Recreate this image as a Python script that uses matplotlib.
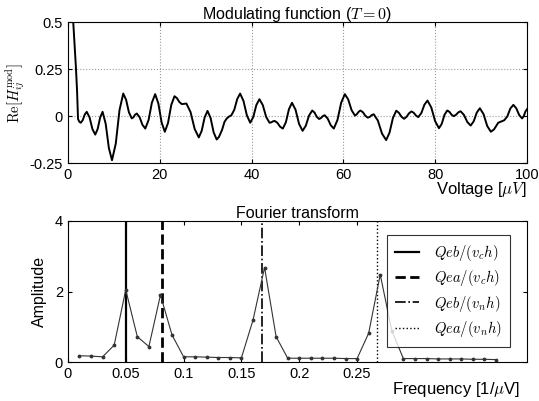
import numpy as np
import matplotlib.pyplot as plt

plt.rcParams['font.family'] = ['Liberation Sans', 'DejaVu Sans']
plt.rcParams['mathtext.fontset'] = 'cm'
plt.rcParams['xtick.direction'] = 'in'
plt.rcParams['ytick.direction'] = 'in'

# modulating function (turning points plus points on the flanks)
volt = [1.0, 1.16, 1.74, 2.0, 2.2, 2.5, 2.8, 3.23, 3.67, 4.1, 4.72, 5.33,
        5.95, 6.48, 7.02, 7.55, 8.23, 8.92, 9.6, 10.42, 11.23, 12.05, 12.67,
        13.28, 13.9, 14.27, 14.63, 15.0, 15.62, 16.23, 16.85, 17.57, 18.28,
        19.0, 19.7, 20.4, 21.1, 21.8, 22.5, 23.2, 23.73, 24.27, 24.8, 25.13,
        25.47, 25.8, 26.7, 27.6, 28.5, 29.13, 29.77, 30.4, 31.07, 31.73, 32.4,
        32.9, 33.55, 34.1, 34.6, 35.1, 35.6, 36.23, 36.87, 37.5, 38.23, 38.97,
        39.7, 40.37, 41.03, 41.7, 42.43, 43.17, 43.9, 44.27, 44.63, 45.0,
        45.6, 46.2, 46.8, 47.47, 48.13, 48.8, 49.57, 50.33, 51.1, 51.8, 52.5,
        53.2, 53.7, 54.2, 54.7, 55.1, 55.5, 55.9, 56.57, 57.23, 57.9, 58.7,
        59.5, 60.3, 61.03, 61.77, 62.5, 62.9, 63.3, 63.7, 64.23, 64.77, 65.3,
        65.73, 66.17, 66.6, 67.5, 68.4, 69.3, 70.03, 70.77, 71.5, 72.07,
        72.63, 73.2, 73.73, 74.27, 74.8, 75.3, 75.8, 76.3, 76.97, 77.63, 78.3,
        79.13, 79.97, 80.8, 81.4, 82.0, 82.6, 83.07, 83.53, 84.0, 84.5, 85.0,
        85.5, 86.23, 86.97, 87.7, 88.37, 89.03, 89.7, 90.5, 91.3, 92.1, 92.8,
        93.7, 95.0, 95.67, 96.33, 97.0, 97.63, 98.27, 98.9, 99.27, 99.63,
        100.0]
mod = [0.62, 0.5, 0.26, 0.13, -0.015, -0.03, -0.035, -0.021, 0.009, 0.023,
       -0.007, -0.068, -0.098, -0.068, -0.007, 0.023, -0.041, -0.17, -0.234,
       -0.146, 0.032, 0.12, 0.087, 0.021, -0.012, -0.006, 0.008, 0.014,
       -0.006, -0.046, -0.066, -0.02, 0.071, 0.117, 0.067, -0.033, -0.083,
       -0.036, 0.059, 0.106, 0.096, 0.075, 0.064, 0.065, 0.066, 0.067, 0.022,
       -0.068, -0.113, -0.078, -0.007, 0.028, -0.01, -0.086, -0.124, -0.11,
       -0.074, -0.03, -0.012, -0.002, 0.005, 0.034, 0.091, 0.12, 0.081,
       0.004, -0.035, -0.004, 0.059, 0.09, 0.059, -0.004, -0.035, -0.033,
       -0.028, -0.025, -0.035, -0.056, -0.066, -0.032, 0.037, 0.071, 0.034,
       -0.041, -0.078, -0.051, 0.003, 0.03, 0.019, -0.004, -0.015, -0.01,
       0.0, 0.005, -0.013, -0.048, -0.066, -0.02, 0.071, 0.117, 0.089, 0.032,
       0.003, 0.01, 0.023, 0.03, 0.021, 0.002, -0.008, -0.004, 0.006, 0.01,
       -0.024, -0.093, -0.127, -0.088, -0.01, 0.029, 0.018, -0.003, -0.014,
       -0.004, 0.015, 0.025, 0.018, 0.003, -0.005, 0.017, 0.061, 0.083,
       0.046, -0.027, -0.064, -0.041, 0.007, 0.03, 0.023, 0.008, 0.0, 0.007,
       0.02, 0.026, 0.007, -0.031, -0.05, -0.027, 0.019, 0.042, 0.011,
       -0.052, -0.083, -0.07, -0.035, -0.022, -0.002, 0.04, 0.06, 0.042,
       0.006, -0.012, 0.0, 0.025, 0.038]

# fourier transform
freq = np.arange(1, 38) / 100.0
amp = [0.18, 0.17, 0.15, 0.48, 2.05, 0.72, 0.44, 1.9, 0.77, 0.15,
       0.15, 0.14, 0.13, 0.13, 0.12, 1.19, 2.68, 0.72, 0.11, 0.11,
       0.11, 0.11, 0.11, 0.10, 0.10, 0.82, 2.48, 0.89, 0.10, 0.10,
       0.10, 0.09, 0.09, 0.09, 0.08, 0.08, 0.07]

line_freq = [0.05, 0.081, 0.168, 0.267]
line_labels = ['$Qeb/(v_ch)$', '$Qea/(v_ch)$', '$Qeb/(v_nh)$', '$Qea/(v_nh)$']
line_styles = ['-', '--', '-.', ':']
line_widths = [1.6, 2.0, 1.2, 1.0]

fig = plt.figure(figsize=(5.39, 4.01), dpi=100)

ax1 = fig.add_axes([0.126, 0.593, 0.852, 0.352])
ax1.plot(volt, mod, color='k', lw=1.4, solid_joinstyle='round')
ax1.set_xlim(0, 100)
ax1.set_ylim(-0.25, 0.5)
ax1.set_xticks([0, 20, 40, 60, 80, 100])
ax1.set_yticks([-0.25, 0, 0.25, 0.5])
ax1.set_yticklabels(['-0.25', '0', '0.25', '0.5'])
ax1.grid(True, linestyle=':', color='0.6', lw=0.8)
ax1.tick_params(labelsize=10.5, top=True, right=True, length=3)
ax1.set_title('Modulating function ($T=0$)', fontsize=11.5, pad=2)
ax1.set_ylabel(r'$\mathrm{Re}[H_{ij}^{\mathrm{mod}}]$', fontsize=10.5, labelpad=2)
ax1.set_xlabel(r'Voltage [$\mu V$]', fontsize=12, labelpad=0)
ax1.xaxis.set_label_coords(1.0, -0.12)
ax1.xaxis.get_label().set_horizontalalignment('right')

ax2 = fig.add_axes([0.126, 0.097, 0.852, 0.352])
for f, lab, ls, lw in zip(line_freq, line_labels, line_styles, line_widths):
    ax2.axvline(f, color='k', ls=ls, lw=lw, label=lab)
ax2.plot(freq, amp, color='0.2', lw=0.8, marker='.', ms=3.5)
ax2.set_xlim(0, 0.397)
ax2.set_ylim(0, 4)
ax2.set_xticks([0, 0.05, 0.1, 0.15, 0.2, 0.25])
ax2.set_xticklabels(['0', '0.05', '0.1', '0.15', '0.2', '0.25'])
ax2.set_yticks([0, 2, 4])
ax2.tick_params(labelsize=10.5, top=True, right=True, length=3)
ax2.set_title('Fourier transform', fontsize=11.5, pad=2)
ax2.set_ylabel('Amplitude', fontsize=11.5, labelpad=6)
ax2.set_xlabel(r'Frequency [1/$\mu$V]', fontsize=12, labelpad=0)
ax2.xaxis.set_label_coords(0.985, -0.13)
ax2.xaxis.get_label().set_horizontalalignment('right')
leg = ax2.legend(loc='upper right', fontsize=10.5, fancybox=False,
                 edgecolor='k', handlelength=1.7, handletextpad=1.0,
                 borderpad=0.55, labelspacing=0.35,
                 bbox_to_anchor=(0.978, 0.95))
leg.get_frame().set_linewidth(0.8)

fig.savefig('out.png', dpi=100)
